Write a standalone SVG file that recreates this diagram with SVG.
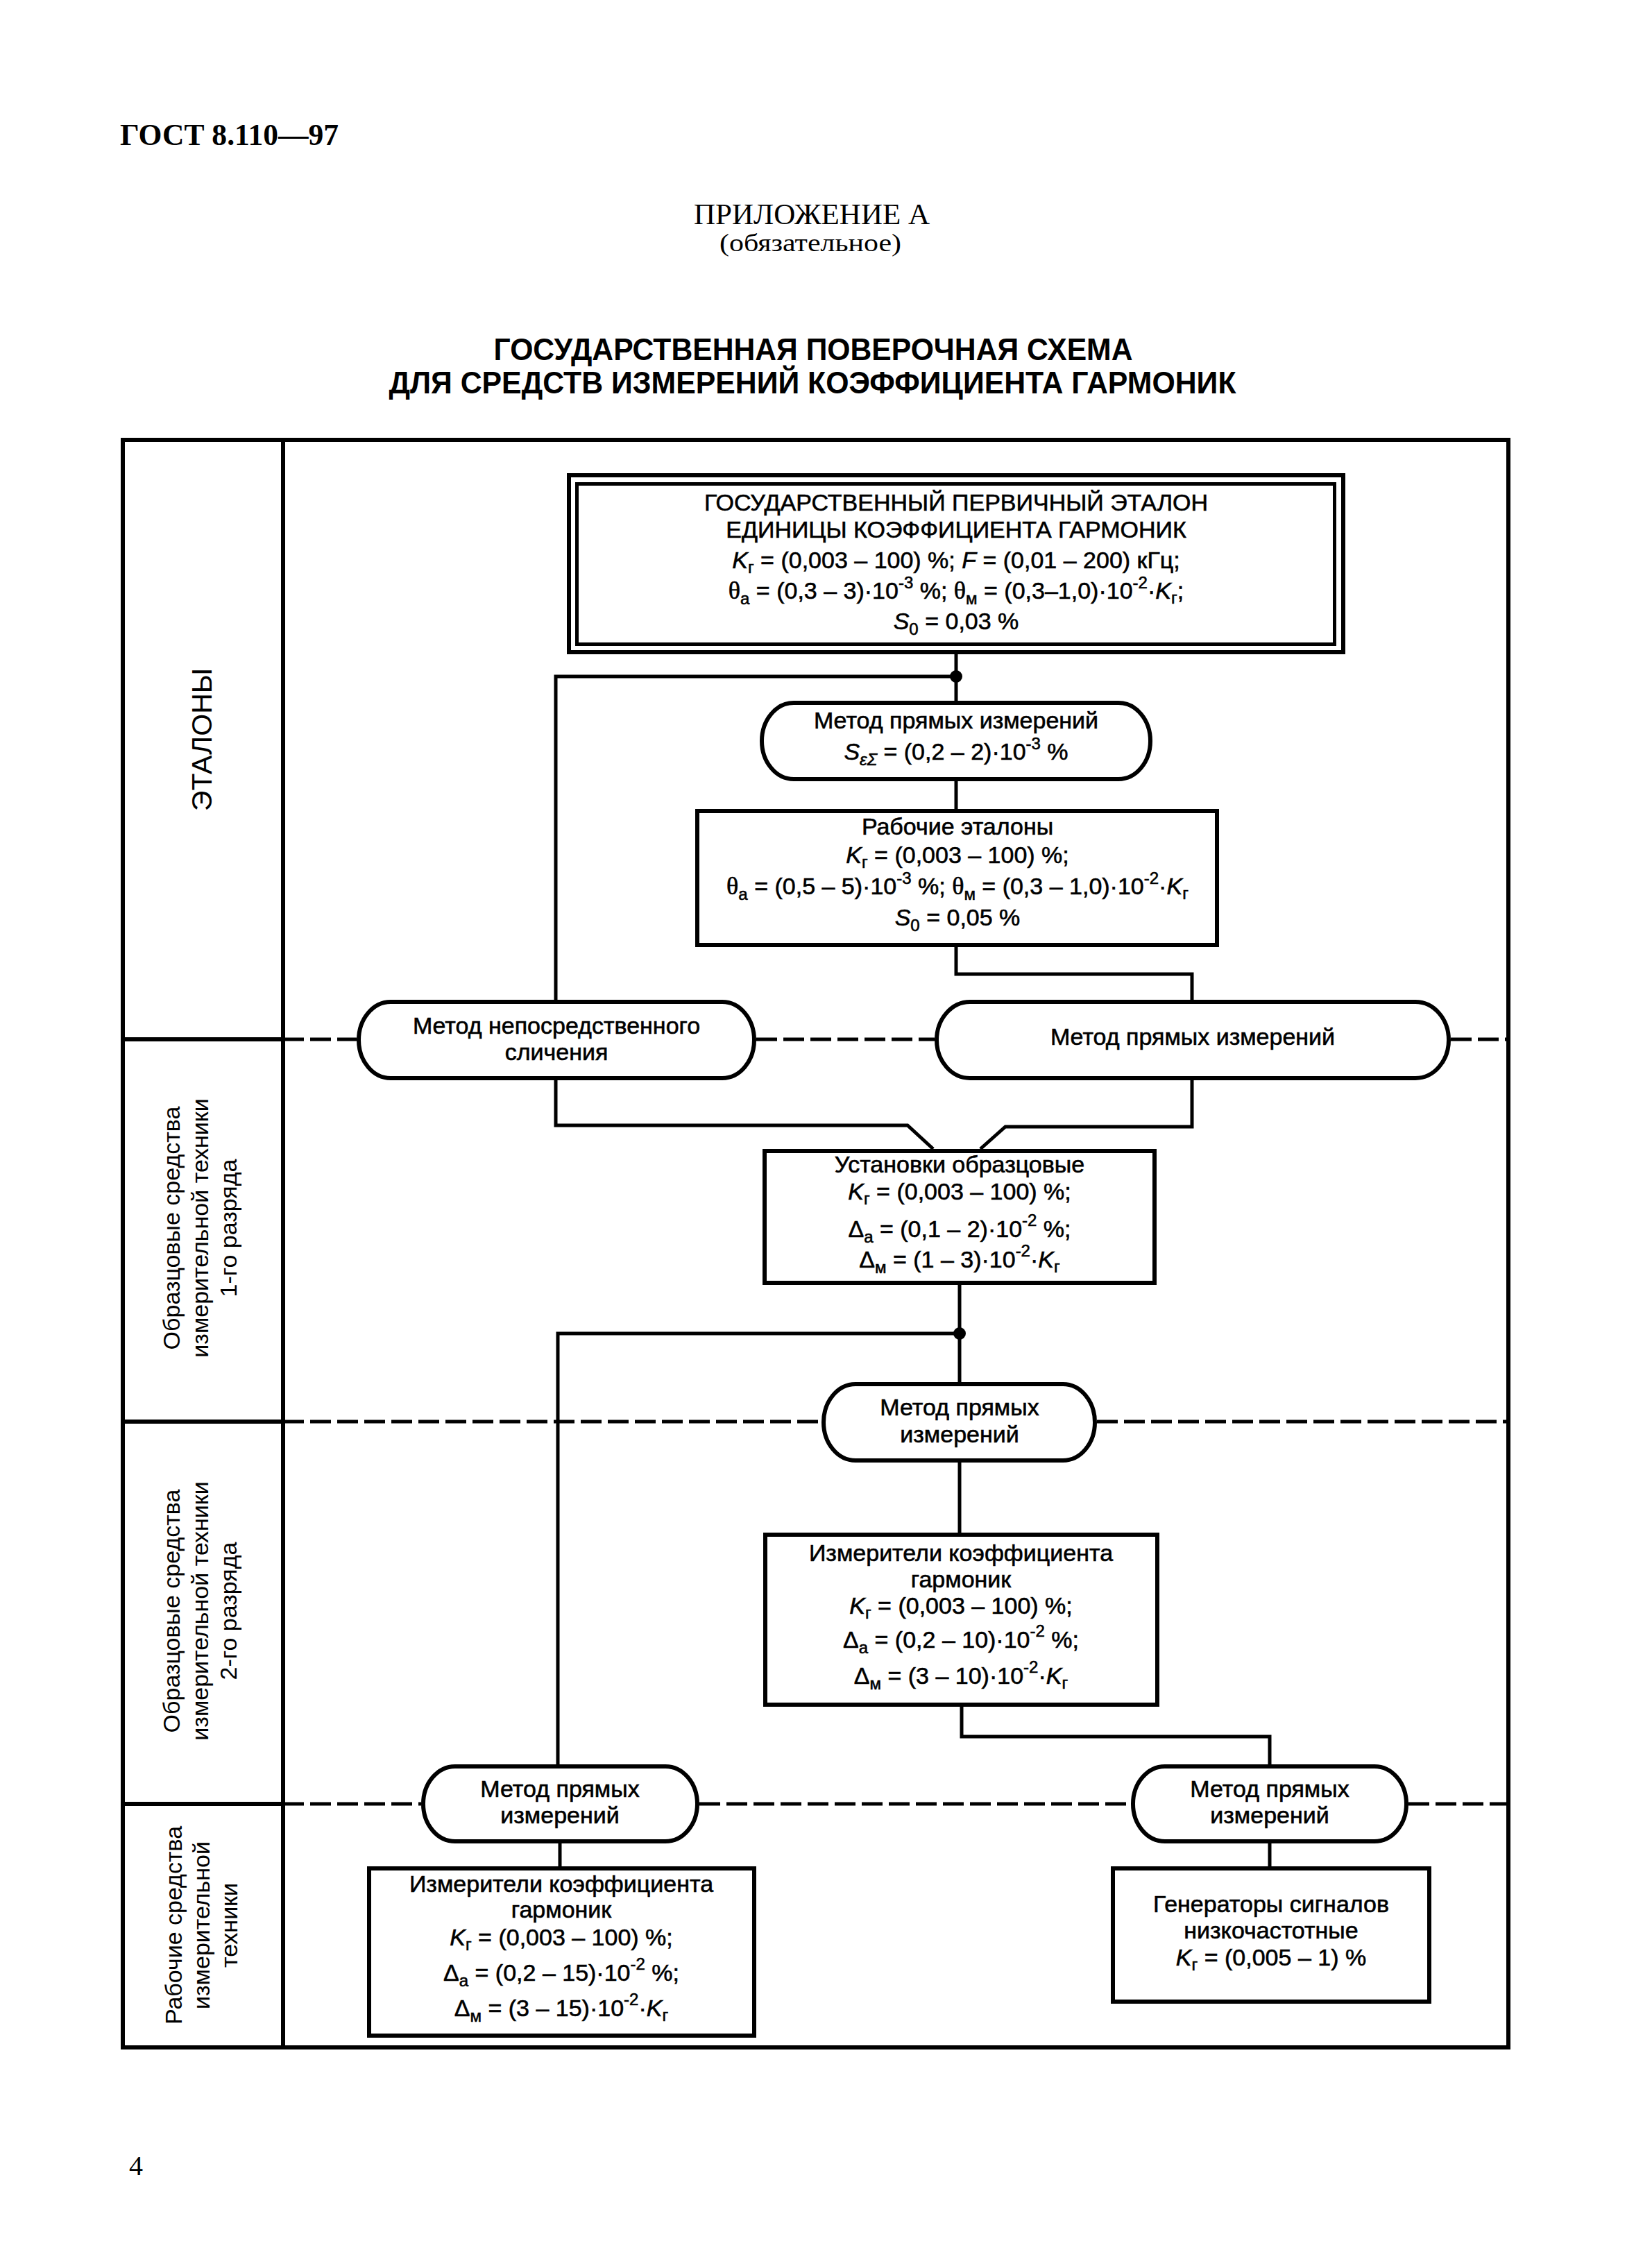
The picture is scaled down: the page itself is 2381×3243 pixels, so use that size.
<svg xmlns="http://www.w3.org/2000/svg" width="2381" height="3243" viewBox="0 0 2381 3243">
<style>
.t{font-family:"Liberation Sans",Arial,sans-serif;font-size:34px;text-anchor:middle;fill:#000;stroke:#000;stroke-width:0.6}
.lbl{font-family:"Liberation Sans",Arial,sans-serif;font-size:34px;text-anchor:middle;fill:#000}
.i{font-style:italic}
.s{font-size:24px}
.th{font-family:"Liberation Serif","Times New Roman",serif;font-size:36px}
.box{fill:#fff;stroke:#000;stroke-width:6}
.pill{fill:#fff;stroke:#000;stroke-width:6}
.ln{fill:none;stroke:#000;stroke-width:5}
.fr{fill:none;stroke:#000;stroke-width:6}
.dash{fill:none;stroke:#000;stroke-width:5;stroke-dasharray:30 9}
</style>
<rect width="2381" height="3243" fill="#fff"/>

<g id="header">
<text x="173" y="209" font-family="Liberation Serif,serif" font-weight="bold" font-size="45" textLength="315" lengthAdjust="spacingAndGlyphs">ГОСТ 8.110—97</text>
<text x="1170" y="323" font-family="Liberation Serif,serif" font-size="42" text-anchor="middle" textLength="340" lengthAdjust="spacingAndGlyphs">ПРИЛОЖЕНИЕ А</text>
<text x="1168" y="362" font-family="Liberation Serif,serif" font-size="35" text-anchor="middle" textLength="262" lengthAdjust="spacingAndGlyphs">(обязательное)</text>
<text x="1172" y="519" font-family="Liberation Sans,Arial,sans-serif" font-weight="bold" font-size="45" text-anchor="middle" textLength="921" lengthAdjust="spacingAndGlyphs">ГОСУДАРСТВЕННАЯ ПОВЕРОЧНАЯ СХЕМА</text>
<text x="1171" y="567" font-family="Liberation Sans,Arial,sans-serif" font-weight="bold" font-size="45" text-anchor="middle" textLength="1221" lengthAdjust="spacingAndGlyphs">ДЛЯ СРЕДСТВ ИЗМЕРЕНИЙ КОЭФФИЦИЕНТА ГАРМОНИК</text>
<text x="186" y="3135" font-family="Liberation Serif,serif" font-size="40">4</text>
</g>

<g id="frame">
<rect class="fr" x="177" y="634" width="1997" height="2317"/>
<line class="fr" x1="408" y1="634" x2="408" y2="2951"/>
<line class="fr" x1="177" y1="1498" x2="408" y2="1498"/>
<line class="fr" x1="177" y1="2049" x2="408" y2="2049"/>
<line class="fr" x1="177" y1="2600" x2="408" y2="2600"/>
<path class="dash" d="M408 1498H514M1090 1498H1347M2091 1498H2174"/>
<path class="dash" d="M408 2049H1184M1581 2049H2174"/>
<path class="dash" d="M408 2600H607M1008 2600H1630M2030 2600H2174"/>
</g>

<g id="labels">
<text class="lbl" transform="translate(305,1066) rotate(-90)" style="font-size:41px">ЭТАЛОНЫ</text>
<text class="lbl" transform="translate(259,1770) rotate(-90)"><tspan x="0" y="0">Образцовые средства</tspan><tspan x="0" y="41">измерительной техники</tspan><tspan x="0" y="82">1-го разряда</tspan></text>
<text class="lbl" transform="translate(259,2322) rotate(-90)"><tspan x="0" y="0">Образцовые средства</tspan><tspan x="0" y="41">измерительной техники</tspan><tspan x="0" y="82">2-го разряда</tspan></text>
<text class="lbl" transform="translate(262,2775) rotate(-90)"><tspan x="0" y="0">Рабочие средства</tspan><tspan x="0" y="40">измерительной</tspan><tspan x="0" y="80">техники</tspan></text>
</g>

<g id="connectors">
<path class="ln" d="M1378 943V1010"/>
<path class="ln" d="M1378 975H801V1441"/>
<circle cx="1378" cy="975" r="9" fill="#000"/>
<path class="ln" d="M1378 1126V1166"/>
<path class="ln" d="M1378 1365V1404H1718V1441"/>
<path class="ln" d="M801 1557V1622H1308L1345 1656"/>
<path class="ln" d="M1718 1557V1624H1449L1413 1656"/>
<path class="ln" d="M1383 1852V1992"/>
<path class="ln" d="M1383 1922H804V2543"/>
<circle cx="1383" cy="1922" r="9" fill="#000"/>
<path class="ln" d="M1383 2108V2209"/>
<path class="ln" d="M1386 2460V2503H1830V2543"/>
<path class="ln" d="M807 2657V2690"/>
<path class="ln" d="M1830 2657V2690"/>
</g>

<g id="n-primary">
<rect class="box" x="820" y="685" width="1116" height="255"/>
<rect x="831.5" y="697.5" width="1092" height="231" fill="none" stroke="#000" stroke-width="5"/>
<text class="t" x="1378" y="736">ГОСУДАРСТВЕННЫЙ ПЕРВИЧНЫЙ ЭТАЛОН</text>
<text class="t" x="1378" y="775">ЕДИНИЦЫ КОЭФФИЦИЕНТА ГАРМОНИК</text>
<text class="t" x="1378" y="819"><tspan class="i">K</tspan><tspan class="s" dy="7">г</tspan><tspan dy="-7"> = (0,003 – 100) %; </tspan><tspan class="i">F</tspan> = (0,01 – 200) кГц;</text>
<text class="t" x="1378" y="863"><tspan class="th">θ</tspan><tspan class="s" dy="8">а</tspan><tspan dy="-8"> = (0,3 – 3)·10</tspan><tspan class="s" dy="-15">-3</tspan><tspan dy="15"> %; </tspan><tspan class="th">θ</tspan><tspan class="s" dy="8">м</tspan><tspan dy="-8"> = (0,3–1,0)·10</tspan><tspan class="s" dy="-15">-2</tspan><tspan dy="15">·</tspan><tspan class="i">K</tspan><tspan class="s" dy="7">г</tspan><tspan dy="-7">;</tspan></text>
<text class="t" x="1378" y="907"><tspan class="i">S</tspan><tspan class="s" dy="8">0</tspan><tspan dy="-8"> = 0,03 %</tspan></text>
</g>

<g id="n-method1">
<rect class="pill" x="1098" y="1013" width="560" height="110" rx="46" ry="55"/>
<text class="t" x="1378" y="1050">Метод прямых измерений</text>
<text class="t" x="1378" y="1095"><tspan class="i">S</tspan><tspan class="s i" dy="8">εΣ</tspan><tspan dy="-8"> = (0,2 – 2)·10</tspan><tspan class="s" dy="-15">-3</tspan><tspan dy="15"> %</tspan></text>
</g>

<g id="n-working">
<rect class="box" x="1005" y="1169" width="749" height="193"/>
<text class="t" x="1380" y="1203">Рабочие эталоны</text>
<text class="t" x="1380" y="1244"><tspan class="i">K</tspan><tspan class="s" dy="7">г</tspan><tspan dy="-7"> = (0,003 – 100) %;</tspan></text>
<text class="t" x="1380" y="1289"><tspan class="th">θ</tspan><tspan class="s" dy="8">а</tspan><tspan dy="-8"> = (0,5 – 5)·10</tspan><tspan class="s" dy="-15">-3</tspan><tspan dy="15"> %; </tspan><tspan class="th">θ</tspan><tspan class="s" dy="8">м</tspan><tspan dy="-8"> = (0,3 – 1,0)·10</tspan><tspan class="s" dy="-15">-2</tspan><tspan dy="15">·</tspan><tspan class="i">K</tspan><tspan class="s" dy="7">г</tspan></text>
<text class="t" x="1380" y="1334"><tspan class="i">S</tspan><tspan class="s" dy="8">0</tspan><tspan dy="-8"> = 0,05 %</tspan></text>
</g>

<g id="n-method2">
<rect class="pill" x="517" y="1444" width="570" height="110" rx="46" ry="55"/>
<text class="t" x="802" y="1490">Метод непосредственного</text>
<text class="t" x="802" y="1528">сличения</text>
</g>

<g id="n-method3">
<rect class="pill" x="1350" y="1444" width="738" height="110" rx="48" ry="55"/>
<text class="t" x="1719" y="1506">Метод прямых измерений</text>
</g>

<g id="n-install">
<rect class="box" x="1102" y="1659" width="562" height="190"/>
<text class="t" x="1383" y="1690">Установки образцовые</text>
<text class="t" x="1383" y="1729"><tspan class="i">K</tspan><tspan class="s" dy="7">г</tspan><tspan dy="-7"> = (0,003 – 100) %;</tspan></text>
<text class="t" x="1383" y="1783">Δ<tspan class="s" dy="8">а</tspan><tspan dy="-8"> = (0,1 – 2)·10</tspan><tspan class="s" dy="-16">-2</tspan><tspan dy="16"> %;</tspan></text>
<text class="t" x="1383" y="1827">Δ<tspan class="s" dy="8">м</tspan><tspan dy="-8"> = (1 – 3)·10</tspan><tspan class="s" dy="-16">-2</tspan><tspan dy="16">·</tspan><tspan class="i">K</tspan><tspan class="s" dy="7">г</tspan></text>
</g>

<g id="n-method4">
<rect class="pill" x="1187" y="1995" width="391" height="110" rx="46" ry="55"/>
<text class="t" x="1383" y="2040">Метод прямых</text>
<text class="t" x="1383" y="2079">измерений</text>
</g>

<g id="n-meter2">
<rect class="box" x="1103" y="2212" width="565" height="245"/>
<text class="t" x="1385" y="2250">Измерители коэффициента</text>
<text class="t" x="1385" y="2288">гармоник</text>
<text class="t" x="1385" y="2326"><tspan class="i">K</tspan><tspan class="s" dy="7">г</tspan><tspan dy="-7"> = (0,003 – 100) %;</tspan></text>
<text class="t" x="1385" y="2375">Δ<tspan class="s" dy="8">а</tspan><tspan dy="-8"> = (0,2 – 10)·10</tspan><tspan class="s" dy="-16">-2</tspan><tspan dy="16"> %;</tspan></text>
<text class="t" x="1385" y="2427">Δ<tspan class="s" dy="8">м</tspan><tspan dy="-8"> = (3 – 10)·10</tspan><tspan class="s" dy="-16">-2</tspan><tspan dy="16">·</tspan><tspan class="i">K</tspan><tspan class="s" dy="7">г</tspan></text>
</g>

<g id="n-method5">
<rect class="pill" x="610" y="2546" width="395" height="108" rx="46" ry="54"/>
<text class="t" x="807" y="2590">Метод прямых</text>
<text class="t" x="807" y="2628">измерений</text>
</g>

<g id="n-method6">
<rect class="pill" x="1633" y="2546" width="394" height="108" rx="46" ry="54"/>
<text class="t" x="1830" y="2590">Метод прямых</text>
<text class="t" x="1830" y="2628">измерений</text>
</g>

<g id="n-meter-work">
<rect class="box" x="532" y="2693" width="555" height="241"/>
<text class="t" x="809" y="2727">Измерители коэффициента</text>
<text class="t" x="809" y="2764">гармоник</text>
<text class="t" x="809" y="2804"><tspan class="i">K</tspan><tspan class="s" dy="7">г</tspan><tspan dy="-7"> = (0,003 – 100) %;</tspan></text>
<text class="t" x="809" y="2855">Δ<tspan class="s" dy="8">а</tspan><tspan dy="-8"> = (0,2 – 15)·10</tspan><tspan class="s" dy="-16">-2</tspan><tspan dy="16"> %;</tspan></text>
<text class="t" x="809" y="2906">Δ<tspan class="s" dy="8">м</tspan><tspan dy="-8"> = (3 – 15)·10</tspan><tspan class="s" dy="-16">-2</tspan><tspan dy="16">·</tspan><tspan class="i">K</tspan><tspan class="s" dy="7">г</tspan></text>
</g>

<g id="n-generator">
<rect class="box" x="1604" y="2693" width="456" height="192"/>
<text class="t" x="1832" y="2756">Генераторы сигналов</text>
<text class="t" x="1832" y="2794">низкочастотные</text>
<text class="t" x="1832" y="2833"><tspan class="i">K</tspan><tspan class="s" dy="7">г</tspan><tspan dy="-7"> = (0,005 – 1) %</tspan></text>
</g>
</svg>
